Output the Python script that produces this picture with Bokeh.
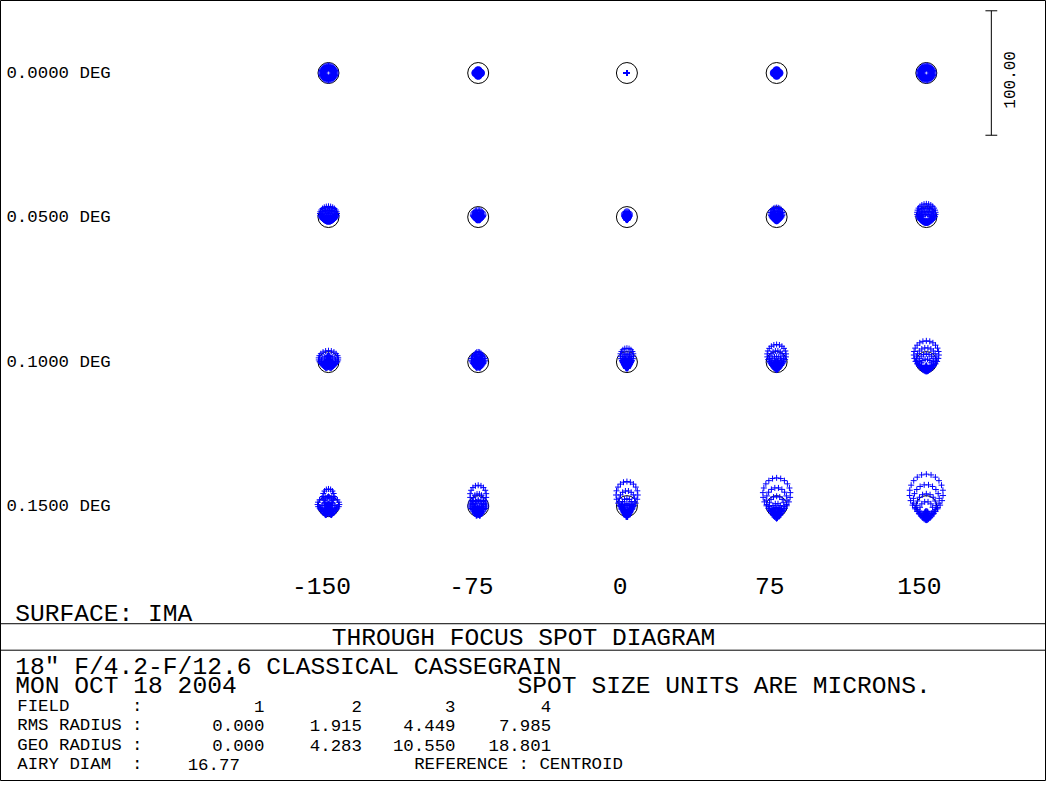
import numpy as np
from bokeh.plotting import figure
from bokeh.models import Range1d
from bokeh.core.properties import value
from bokeh.embed import file_html
from bokeh.resources import INLINE

# ---------------- data ----------------
FOCUS_LABELS = ["-150", "-75", "0", "75", "150"]
FOCUS_UM = [-150, -75, 0, 75, 150]                  # through-focus positions (microns)
FIELD_LABELS = ["0.0000 DEG", "0.0500 DEG", "0.1000 DEG", "0.1500 DEG"]
COMA_UM = [0.0, 2.2, 4.3, 6.5]                      # sagittal coma per field (microns)
SHIFT_X_UM = [0, 8, 33, 75]                         # sagittal focus shift per field (microns)
SHIFT_Y_UM = [0, 25, 100, 225]                      # tangential focus shift per field (microns)
F_NUMBER = 12.6
OBSCURATION = 0.35
RINGS = 6                                           # hexapolar ray density
AIRY_DIAM_UM = 16.77
SCALE_BAR_UM = 100.0
FIELD_NUM = ["1", "2", "3", "4"]
RMS_RADIUS = ["0.000", "1.915", "4.449", "7.985"]
GEO_RADIUS = ["0.000", "4.283", "10.550", "18.801"]
AIRY_TEXT = "16.77"

# ---------------- layout (reference pixel space) ----------------
W, H = 1062, 797
COL_X = [333, 485, 636, 788, 940]
ROW_Y = [74, 221, 369, 516]
PX_PER_UM = 127.0 / SCALE_BAR_UM
FONT = value("Liberation Mono")
BIG = "24.6px"
SMALL = "17.4px"
NB = "\u00a0"

p = figure(width=1046, height=781, x_range=Range1d(0, W), y_range=Range1d(H, 0),
           output_backend="svg", toolbar_location=None, min_border=0,
           x_axis_type=None, y_axis_type=None)
p.outline_line_color = "black"
p.outline_line_width = 1
p.background_fill_color = "white"
p.border_fill_color = "white"

# ---------------- spot points ----------------
rho, th = [], []
for k in range(1, RINGS + 1):
    r = k / RINGS
    if r < OBSCURATION:
        continue
    for j in range(6 * k):
        rho.append(r)
        th.append(2 * np.pi * j / (6 * k))
rho = np.array(rho)
th = np.array(th)
px = rho * np.cos(th)
py = rho * np.sin(th)

sx, sy, cx, cy = [], [], [], []
for fi, a in enumerate(COMA_UM):
    for ci, d in enumerate(FOCUS_UM):
        dx = (d + SHIFT_X_UM[fi]) / (2 * F_NUMBER)
        dy = (d + SHIFT_Y_UM[fi]) / (2 * F_NUMBER)
        ex = dx * px + 2 * a * px * py
        ey = dy * py + a * (3 * py ** 2 + px ** 2)
        ex = ex - ex.mean()
        ey = ey - ey.mean()
        sx.extend(COL_X[ci] + ex * PX_PER_UM)
        sy.extend(ROW_Y[fi] - ey * PX_PER_UM)
        cx.append(COL_X[ci])
        cy.append(ROW_Y[fi])

p.circle(x=cx, y=cy, radius=AIRY_DIAM_UM / 2 * PX_PER_UM,
         fill_color=None, line_color="black", line_width=1)
p.scatter(x=sx, y=sy, marker="cross", size=6, line_color="#0000FF", line_width=1)

# ---------------- scale bar ----------------
half = SCALE_BAR_UM / 2 * PX_PER_UM
p.segment(x0=[1006, 1000, 1000], y0=[ROW_Y[0] - half, ROW_Y[0] - half, ROW_Y[0] + half],
          x1=[1006, 1012, 1012], y1=[ROW_Y[0] + half, ROW_Y[0] - half, ROW_Y[0] + half],
          line_color="black", line_width=1)
p.text(x=[1024], y=[81], text=["%.2f" % SCALE_BAR_UM], angle=np.pi / 2,
       text_font=FONT, text_font_size="16px", text_align="center",
       text_baseline="middle", text_color="black")

# ---------------- labels ----------------
p.text(x=[6] * 4, y=ROW_Y, text=FIELD_LABELS, text_font=FONT, text_font_size=SMALL,
       text_align="left", text_baseline="middle", text_color="black")
p.text(x=[c - 7 for c in COL_X], y=[598] * 5, text=FOCUS_LABELS, text_font=FONT,
       text_font_size=BIG, text_align="center", text_baseline="middle", text_color="black")

p.segment(x0=[0, 0], y0=[636, 663], x1=[W, W], y1=[636, 663], line_color="black", line_width=1)

p.text(x=[15], y=[627], text=["SURFACE: IMA"], text_font=FONT, text_font_size=BIG,
       text_align="left", text_baseline="middle", text_color="black")
p.text(x=[531], y=[651], text=["THROUGH FOCUS SPOT DIAGRAM"], text_font=FONT,
       text_font_size=BIG, text_align="center", text_baseline="middle", text_color="black")
p.text(x=[15, 15, 525], y=[681, 700, 700],
       text=['18" F/4.2-F/12.6 CLASSICAL CASSEGRAIN', "MON OCT 18 2004",
             "SPOT SIZE UNITS ARE MICRONS."],
       text_font=FONT, text_font_size=BIG, text_align="left", text_baseline="middle",
       text_color="black")

ROW_NAMES = ["FIELD" + NB * 6 + ":", "RMS RADIUS" + NB + ":", "GEO RADIUS" + NB + ":",
             "AIRY DIAM" + NB * 2 + ":"]
TAB_Y = [720, 740, 760, 780]
p.text(x=[17] * 4, y=TAB_Y, text=ROW_NAMES, text_font=FONT, text_font_size=SMALL,
       text_align="left", text_baseline="middle", text_color="black")
COL_R = [268, 367, 462, 559]
vals, vx, vy = [], [], []
for row, yy in zip([FIELD_NUM, RMS_RADIUS, GEO_RADIUS], TAB_Y[:3]):
    for v, xr in zip(row, COL_R):
        vals.append(v)
        vx.append(xr)
        vy.append(yy)
vals.append(AIRY_TEXT)
vx.append(243)
vy.append(TAB_Y[3])
p.text(x=vx, y=vy, text=vals, text_font=FONT, text_font_size=SMALL,
       text_align="right", text_baseline="middle", text_color="black")
p.text(x=[420], y=[TAB_Y[3]], text=["REFERENCE" + NB + ":" + NB + "CENTROID"], text_font=FONT,
       text_font_size=SMALL, text_align="left", text_baseline="middle", text_color="black")

open("out.html", "w").write(file_html(p, INLINE))
